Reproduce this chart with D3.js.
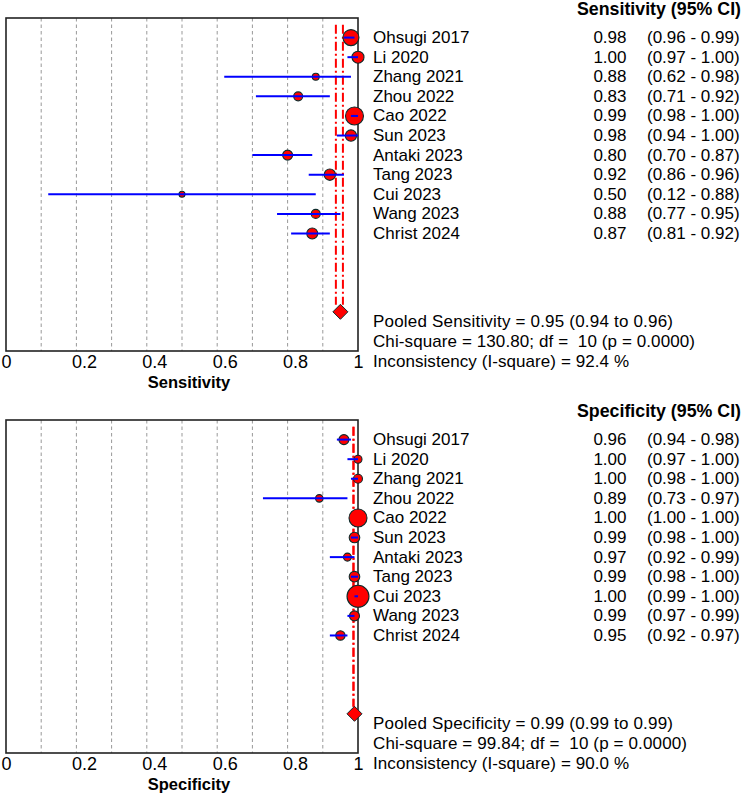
<!DOCTYPE html>
<html>
<head>
<meta charset="utf-8" />
<title>Forest plot</title>
<style>
    body { margin: 0; background: #fff; }
    text { font-family: "Liberation Sans", Arial, sans-serif; fill: #000; }
</style>
</head>
<body>
<div id="container"></div>
<script src="https://cdn.jsdelivr.net/npm/d3@7"></script>
<script>
    // study data
    const studies = ['Ohsugi 2017', 'Li 2020', 'Zhang 2021', 'Zhou 2022', 'Cao 2022', 'Sun 2023',
        'Antaki 2023', 'Tang 2023', 'Cui 2023', 'Wang 2023', 'Christ 2024']

    const sensEst = [0.98, 1.00, 0.88, 0.83, 0.99, 0.98, 0.80, 0.92, 0.50, 0.88, 0.87]
    const sensLo = [0.96, 0.97, 0.62, 0.71, 0.98, 0.94, 0.70, 0.86, 0.12, 0.77, 0.81]
    const sensHi = [0.99, 1.00, 0.98, 0.92, 1.00, 1.00, 0.87, 0.96, 0.88, 0.95, 0.92]
    const sensWeight = [64, 36, 12, 20, 81, 32, 25, 32, 9, 20, 30]
    const sensPooled = [0.95, 0.94, 0.96]
    const sensStats = ['Pooled Sensitivity = 0.95 (0.94 to 0.96)',
        'Chi-square = 130.80; df =  10 (p = 0.0000)',
        'Inconsistency (I-square) = 92.4 %']

    const specEst = [0.96, 1.00, 1.00, 0.89, 1.00, 0.99, 0.97, 0.99, 1.00, 0.99, 0.95]
    const specLo = [0.94, 0.97, 0.98, 0.73, 1.00, 0.98, 0.92, 0.98, 0.99, 0.97, 0.92]
    const specHi = [0.98, 1.00, 1.00, 0.97, 1.00, 1.00, 0.99, 1.00, 1.00, 0.99, 0.97]
    const specWeight = [25, 16, 20, 14, 81, 28, 16, 28, 121, 25, 22]
    const specPooled = [0.99, 0.99, 0.99]
    const specStats = ['Pooled Specificity = 0.99 (0.99 to 0.99)',
        'Chi-square = 99.84; df =  10 (p = 0.0000)',
        'Inconsistency (I-square) = 90.0 %']

    const xTicks = [0, 0.2, 0.4, 0.6, 0.8, 1]

    const svg = d3.select('#container').append('svg').attr('width', 744).attr('height', 793)

    const x = d3.scaleLinear().domain([0, 1]).range([6, 358])
    const r = d3.scaleSqrt().domain([0, 100]).range([0, 10])
    const fmt = d3.format('.2f')

    function panel(top, name, est, lo, hi, weight, pooled, stats, statWidths) {
        const h = 333
        const g = svg.append('g').attr('transform', `translate(0,${top})`)
        // rows -1 .. 16 span the box
        const y = d3.scaleLinear().domain([-1, 16]).range([0, h])
        const rows = studies.map((s, i) => ({ s, i, est: est[i], lo: lo[i], hi: hi[i], w: weight[i] }))

        // grid
        g.selectAll('.grid').data(x.ticks(10).filter(t => t > 0 && t < 1)).enter()
            .append('line')
            .attr('x1', d => x(d)).attr('x2', d => x(d))
            .attr('y1', 0).attr('y2', h)
            .attr('stroke', '#999').attr('stroke-width', 1).attr('stroke-dasharray', '3.5,3')

        g.append('rect').attr('x', x(0)).attr('y', 0).attr('width', x(1) - x(0)).attr('height', h)
            .attr('fill', 'none').attr('stroke', '#222').attr('stroke-width', 1.6)

        // pooled CI lines
        const yPool = y(14)
        g.selectAll('.pl').data([pooled[1], pooled[2]]).enter()
            .append('line')
            .attr('x1', d => x(d) - 1).attr('x2', d => x(d) - 1)
            .attr('y1', y(-0.65)).attr('y2', yPool - 7)
            .attr('stroke', '#ff0000').attr('stroke-width', 2).attr('stroke-dasharray', '9,3,2,3')

        // markers
        g.selectAll('.pt').data(rows).enter()
            .append('circle')
            .attr('cx', d => x(d.est)).attr('cy', d => y(d.i))
            .attr('r', d => r(d.w))
            .attr('fill', '#ff0000').attr('stroke', '#0d2b2b').attr('stroke-width', 1.1)

        g.selectAll('.ci').data(rows).enter()
            .append('line')
            .attr('x1', d => x(d.lo)).attr('x2', d => x(d.hi))
            .attr('y1', d => y(d.i)).attr('y2', d => y(d.i))
            .attr('stroke', '#0000ff').attr('stroke-width', 2)

        // pooled diamond
        const cx = x(pooled[0])
        g.append('path')
            .attr('d', `M${cx - 7.5},${yPool} L${cx},${yPool - 7.5} L${cx + 7.5},${yPool} L${cx},${yPool + 7.5} Z`)
            .attr('fill', '#ff0000').attr('stroke', '#0d2b2b').attr('stroke-width', 1)

        // axis
        const axis = g.append('g').attr('transform', `translate(0,${h})`)
            .call(d3.axisBottom(x).tickValues(xTicks).tickSize(0).tickFormat(d3.format('~g')))
        axis.select('.domain').remove()
        axis.selectAll('text').attr('y', 17).attr('dy', 0).attr('dx', -5)
            .style('text-anchor', 'start').style('font-size', '18px')
            .style('font-family', '"Liberation Sans", Arial, sans-serif').attr('fill', '#000')

        g.append('text').attr('x', 189).attr('y', h + 36.5).attr('text-anchor', 'middle')
            .style('font-size', '16.5px').style('font-weight', 'bold').text(name)

        // right columns
        g.append('text').attr('x', 741).attr('y', -3.5).attr('text-anchor', 'end')
            .style('font-size', '17.8px').style('font-weight', 'bold').text(name + ' (95% CI)')

        g.selectAll('.nm').data(rows).enter().append('text')
            .attr('x', 373).attr('y', d => y(d.i) + 5.5)
            .style('font-size', '17px').text(d => d.s)

        g.selectAll('.val').data(rows).enter().append('text')
            .attr('x', 626.5).attr('y', d => y(d.i) + 5.5).attr('text-anchor', 'end')
            .style('font-size', '17px').text(d => fmt(d.est))

        g.selectAll('.cit').data(rows).enter().append('text')
            .attr('x', 647).attr('y', d => y(d.i) + 5.5)
            .style('font-size', '17px').text(d => `(${fmt(d.lo)} - ${fmt(d.hi)})`)

        g.selectAll('.st').data(stats).enter().append('text')
            .attr('x', 373).attr('y', (d, i) => 309 + i * 20)
            .attr('textLength', (d, i) => statWidths[i]).attr('lengthAdjust', 'spacing')
            .style('font-size', '17px').style('white-space', 'pre').text(d => d)
    }

    panel(18, 'Sensitivity', sensEst, sensLo, sensHi, sensWeight, sensPooled, sensStats, [300, 322, 256])
    panel(420, 'Specificity', specEst, specLo, specHi, specWeight, specPooled, specStats, [300, 314, 256])
</script>
</body>
</html>
